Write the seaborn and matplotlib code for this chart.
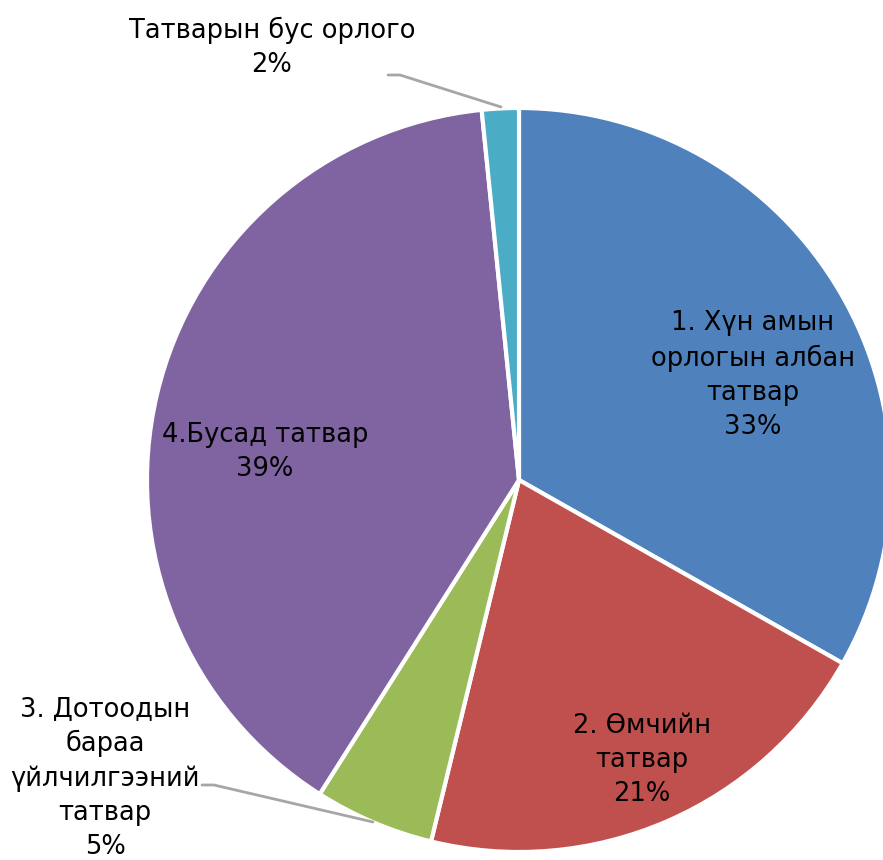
import numpy as np
import matplotlib
matplotlib.use("Agg")
import matplotlib.pyplot as plt
import seaborn as sns

categories = ["1. Хүн амын\nорлогын албан\nтатвар", "2. Өмчийн\nтатвар",
              "3. Дотоодын\nбараа\nүйлчилгээний\nтатвар", "4.Бусад татвар",
              "Татварын бус орлого"]
values = [33.2, 20.6, 5.2, 39.4, 1.6]
pct_labels = ["33%", "21%", "5%", "39%", "2%"]
colors = ["#4F81BD", "#C0504D", "#9BBB59", "#8064A2", "#4BACC6"]

sns.set_style("white")
plt.rcParams['font.family'] = ['DejaVu Sans']

W, H = 883, 860
fig = plt.figure(figsize=(W / 100, H / 100), dpi=100)
cx, cy, r = 519, 480, 372
ax = fig.add_axes([(cx - r) / W, (H - cy - r) / H, 2 * r / W, 2 * r / H])

wedges, _ = ax.pie(values, colors=colors, startangle=90, counterclock=False,
                   radius=1, wedgeprops=dict(edgecolor="white", linewidth=3))
for w in wedges:
    w.set_clip_on(False)
ax.set_xlim(-1, 1)
ax.set_ylim(-1, 1)
ax.set_aspect("equal")
ax.axis("off")

fs = 18.5
# label positions in data coordinates (relative to center, radius = 1)
label_pos = [(0.629, 0.282), (0.331, -0.753), (-1.113, -0.801), (-0.683, 0.075), (-0.664, 1.164)]
for cat, pct, (x, y) in zip(categories, pct_labels, label_pos):
    ax.text(x, y, f"{cat}\n{pct}", ha="center", va="center", fontsize=fs,
            color="black", linespacing=1.4, clip_on=False)

def px(xp, yp):
    return (xp - cx) / r, (cy - yp) / r

# leader lines
for pts in [[(388, 75), (400, 75), (501, 107)], [(202, 785), (214, 785), (373, 822)]]:
    xy = np.array([px(*p) for p in pts])
    ax.plot(xy[:, 0], xy[:, 1], color="#A6A6A6", linewidth=2, clip_on=False)

fig.savefig("out.png", dpi=100)
